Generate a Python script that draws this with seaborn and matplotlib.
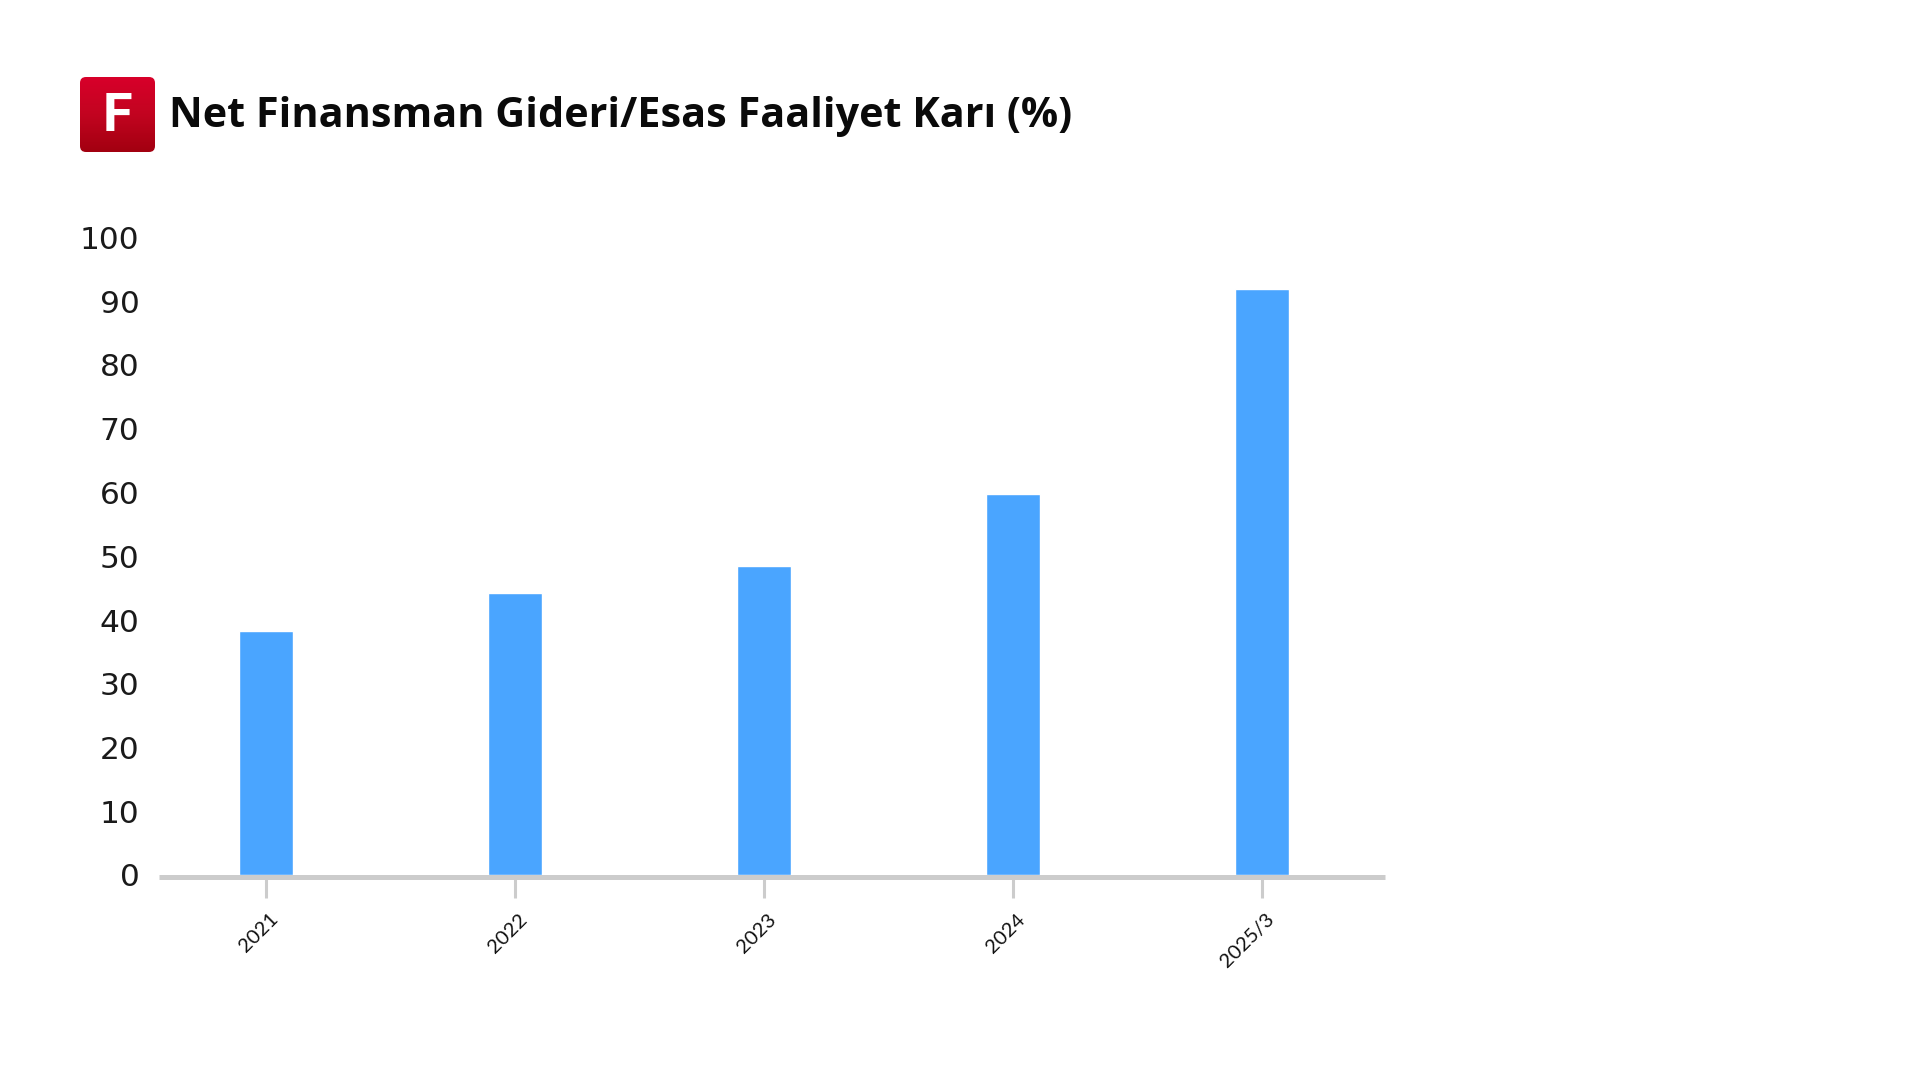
"""
Net Finansman Gideri/Esas Faaliyet Karı bar chart
"""

import matplotlib
matplotlib.use('Agg')

import numpy as np
import pandas as pd
import matplotlib.pyplot as plt
from matplotlib.patches import FancyBboxPatch
from matplotlib.colors import LinearSegmentedColormap
from matplotlib.transforms import ScaledTranslation
import seaborn as sns

periods = ["2021", "2022", "2023", "2024", "2025/3"]
ratios = [38.2, 44.3, 48.4, 59.7, 92.0]
y_ticks = [0, 10, 20, 30, 40, 50, 60, 70, 80, 90, 100]
title = "Net Finansman Gideri/Esas Faaliyet Karı (%)"

W, H = 1920, 1080


def px_rect(left, top, right, bottom):
    # pixel box (origin top-left) to figure fractions
    return [left / W, 1 - bottom / H, (right - left) / W, (bottom - top) / H]


sns.set_style("white")
plt.rcParams['font.family'] = ['Open Sans', 'DejaVu Sans']

fig = plt.figure(figsize=(19.2, 10.8), dpi=100, facecolor='white')
ax = fig.add_axes(px_rect(159, 237.5, 1385, 875))

df = pd.DataFrame({"period": periods, "ratio": ratios})
sns.barplot(data=df, x="period", y="ratio", color="#4aa5ff", saturation=1,
            width=0.218, ax=ax)

ax.set_xlim(-0.43, 4.494)
ax.set_ylim(0, 100)
ax.set_yticks(y_ticks)
ax.set_xlabel("")
ax.set_ylabel("")
ax.grid(False)
ax.patch.set_alpha(0)

sns.despine(ax=ax, left=True)
ax.spines['bottom'].set_color('#cccccc')
ax.spines['bottom'].set_linewidth(3.6)
ax.spines['bottom'].set_position(('outward', 1.5))
ax.spines['bottom'].set_capstyle('butt')

ax.tick_params(axis='y', length=0, pad=14, labelsize=22.5, labelcolor='#1a1a1a')
ax.tick_params(axis='x', bottom=True, length=15, width=2.2, color='#cccccc', pad=9,
               labelsize=14.5, labelcolor='#111111')
for label in ax.get_yticklabels():
    label.set_family(['DejaVu Sans'])
label_shift = ScaledTranslation(3 / 100, 0, fig.dpi_scale_trans)
for label in ax.get_xticklabels():
    label.set_family(['Lato', 'DejaVu Sans'])
    label.set_rotation(45)
    label.set_ha('right')
    label.set_va('top')
    label.set_rotation_mode('anchor')
    label.set_transform(label.get_transform() + label_shift)

# title
fig.text(169 / W, 1 - 127 / H, title, fontsize=29.75, fontweight='bold',
         family=['Open Sans', 'DejaVu Sans'], color='#0a0a0a', va='baseline')

# red logo with vertical gradient
logo_ax = fig.add_axes(px_rect(80, 77, 155, 152))
logo_ax.axis('off')
logo_cmap = LinearSegmentedColormap.from_list("logo", ["#d8002a", "#c20420", "#a20010"])
grad = logo_ax.imshow(np.linspace(0, 1, 128).reshape(-1, 1), cmap=logo_cmap,
                      extent=(0, 1, 0, 1), aspect='auto')
clip = FancyBboxPatch((0.0, 0.0), 1.0, 1.0, boxstyle="round,pad=0.0,rounding_size=0.08",
                      transform=logo_ax.transData, facecolor='none', edgecolor='none')
logo_ax.add_patch(clip)
grad.set_clip_path(clip)
logo_ax.text(0.5, 0.47, "F", color='white', fontsize=39, fontweight='bold',
             family=['Roboto', 'DejaVu Sans'], ha='center', va='center')

plt.savefig("out.png", dpi=100)
plt.close()
